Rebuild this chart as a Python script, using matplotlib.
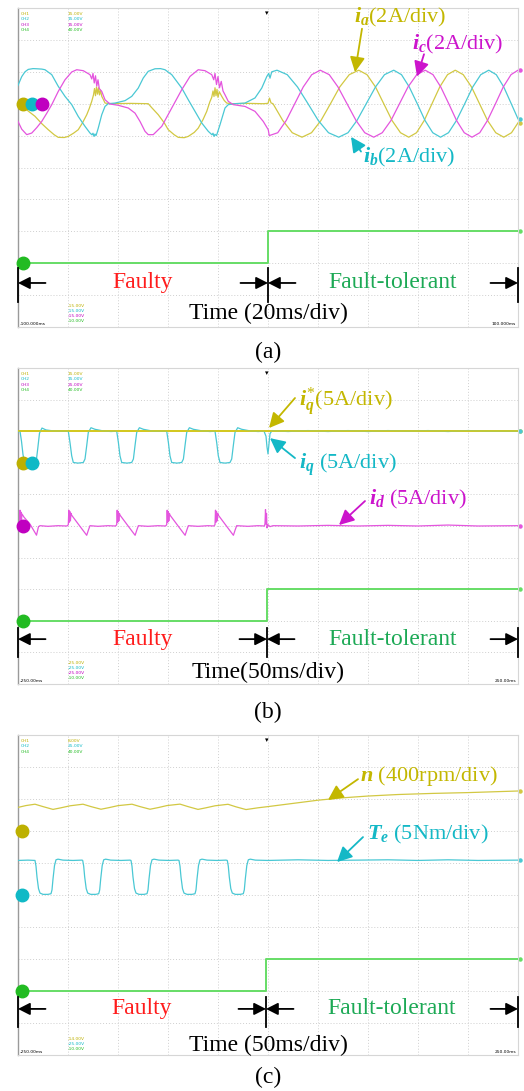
import matplotlib.pyplot as plt
import matplotlib.transforms as mtrans
import numpy as np

plt.rcParams['font.family'] = 'Liberation Serif'
plt.rcParams['mathtext.fontset'] = 'custom'
plt.rcParams['mathtext.rm'] = 'Liberation Serif'
plt.rcParams['mathtext.it'] = 'Liberation Serif:italic:bold'
plt.rcParams['mathtext.bf'] = 'Liberation Serif:bold'

# ---------------- (a) phase currents: (time ms, current A) ----------------
ia_pts = [(-100, 0.0), (-98.5, -0.05), (-96, -0.45), (-93.2, -0.79), (-90.5, -1.25), (-87.9, -1.63),
          (-85.5, -1.95), (-83.9, -2.11), (-81.5, -2.12), (-79.9, -2.05), (-77.8, -1.85), (-75.9, -1.63),
          (-74.2, -1.2), (-72.5, -0.69), (-71.5, -0.3), (-70.5, 0.15), (-69.8, 0.55), (-69.4, 0.95),
          (-69.0, 0.5), (-68.6, 1.05), (-68.2, 0.6), (-67.8, 1.0), (-67.4, 0.55), (-67.0, 0.85),
          (-66.5, 0.46), (-65.8, 0.25), (-65.2, 0.04), (-62.5, 0.0), (-55, 0.02), (-47.9, 0.0),
          (-46.5, -0.25), (-43.9, -0.69), (-41.5, -1.2), (-39.9, -1.63), (-37.5, -1.95), (-35.9, -2.11),
          (-33.5, -2.13), (-31.9, -2.05), (-29.5, -1.8), (-27.9, -1.53), (-26, -1.0), (-24.5, -0.48),
          (-23.3, 0.1), (-22.5, 0.4), (-22.0, 0.8), (-21.6, 0.45), (-21.2, 1.0), (-20.8, 0.5),
          (-20.4, 0.9), (-20.0, 0.4), (-19.5, 0.75), (-18.5, 0.46), (-17.5, 0.2), (-16.5, 0.04),
          (-14.5, 0.0), (-8, 0.02), (-2, 0.0), (0, 0.02), (0.6, 0.35), (1.2, 0.05),
          (2.0, 0.0), (5.9, -1.05), (9.7, -1.82), (13.6, -2.1), (17.4, -1.82), (21.2, -1.05),
          (25.0, 0.0), (28.7, 1.05), (32.5, 1.82), (36.3, 2.1), (39.6, 1.82), (43.0, 1.05),
          (46.3, 0.0), (49.6, -1.05), (53.0, -1.82), (56.3, -2.1), (59.4, -1.82), (62.5, -1.05),
          (65.6, 0.0), (68.7, 1.05), (71.8, 1.82), (74.9, 2.1), (78.1, 1.82), (81.4, 1.05),
          (84.6, 0.0), (87.8, -1.05), (91.1, -1.82), (94.3, -2.1), (97.4, -1.82), (100, -1.2)]

ib_pts = [(-100, 1.15), (-98.5, 1.7), (-97.2, 2.0), (-95.9, 2.15), (-94, 2.2), (-92.5, 2.19),
          (-90.5, 2.17), (-89.2, 2.13), (-86.5, 1.82), (-83.9, 1.09), (-81.2, 0.46), (-78.5, -0.06),
          (-75.9, -0.80), (-73.2, -1.42), (-71.2, -1.84), (-70.4, -1.95), (-70.0, -1.85), (-69.6, -2.05),
          (-69.2, -1.9), (-68.8, -2.0), (-67.9, -1.53), (-66.5, -0.69), (-65.2, -0.17), (-63.9, 0.0),
          (-61.2, 0.04), (-57.2, 0.19), (-54.5, 0.46), (-51.9, 0.98), (-49.9, 1.61), (-47.9, 2.03),
          (-45.2, 2.19), (-43, 2.2), (-41.2, 2.13), (-38.5, 1.82), (-34.5, 0.98), (-31.9, 0.25),
          (-29.2, -0.48), (-26.5, -1.21), (-23.9, -1.73), (-22.4, -1.95), (-22.0, -1.85), (-21.6, -2.05),
          (-21.2, -1.92), (-20.6, -2.0), (-19.2, -1.32), (-17.2, -0.27), (-15.9, -0.06), (-13.2, 0.0),
          (-9.2, 0.04), (-5.2, 0.36), (-2.5, 0.98), (-0.5, 1.70),
          (0.3, 1.9), (0.8, 1.6), (1.5, 2.0), (3.6, 2.1), (7.7, 1.82), (11.8, 1.05), (16.0, 0.0),
          (20.1, -1.05), (24.2, -1.82), (28.3, -2.1), (32.0, -1.82), (35.6, -1.05), (39.3, 0.0),
          (43.0, 1.05), (46.6, 1.82), (50.3, 2.1), (53.4, 1.82), (56.5, 1.05), (59.7, 0.0),
          (62.8, -1.05), (65.9, -1.82), (69.0, -2.1), (72.2, -1.82), (75.4, -1.05), (78.7, 0.0),
          (81.9, 1.05), (85.1, 1.82), (88.3, 2.1), (91.3, 1.82), (94.3, 1.05), (97.3, 0.0), (100, -0.95)]

ic_pts = [(-100, -1.11), (-98.5, -1.6), (-96.5, -1.94), (-94.5, -1.84), (-92.5, -1.5), (-90.5, -1.11),
          (-88.5, -0.6), (-86.5, -0.06), (-83.9, 0.77), (-81.2, 1.5), (-78.5, 1.99), (-76.5, 2.13),
          (-73.9, 2.07), (-71.2, 1.82), (-70.5, 1.55), (-70.0, 1.9), (-69.5, 1.3), (-69.0, 1.75),
          (-68.5, 1.1), (-68.0, 1.5), (-67.5, 0.95), (-66.5, 0.77), (-65.2, 0.25), (-63.2, -0.02),
          (-59.9, -0.1), (-55.9, -0.27), (-53.2, -0.59), (-51.2, -1.11), (-49.2, -1.73), (-47.9, -1.94),
          (-45.9, -1.94), (-42.5, -1.42), (-38.5, -0.27), (-34.5, 0.88), (-31.2, 1.71), (-27.9, 2.13),
          (-25.2, 2.07), (-22.5, 1.82), (-21.7, 1.5), (-21.2, 1.9), (-20.6, 1.2), (-20.0, 1.7),
          (-19.4, 1.0), (-18.7, 1.4), (-18.0, 0.8), (-17.2, 0.56), (-15.9, 0.15), (-13.9, -0.06),
          (-9.2, -0.17), (-5.2, -0.48), (-1.9, -1.11), (0.1, -1.63),
          (0.5, -2.0), (3.9, -1.82), (7.3, -1.05), (10.7, 0.0), (14.1, 1.05), (17.5, 1.82),
          (20.9, 2.1), (24.5, 1.82), (28.0, 1.05), (31.6, 0.0), (35.2, -1.05), (38.7, -1.82),
          (42.3, -2.1), (45.7, -1.82), (49.2, -1.05), (52.6, 0.0), (56.0, 1.05), (59.5, 1.82),
          (62.9, 2.1), (66.0, 1.82), (69.1, 1.05), (72.3, 0.0), (75.4, -1.05), (78.5, -1.82),
          (81.6, -2.1), (84.7, -1.82), (87.8, -1.05), (91.0, 0.0), (94.1, 1.05), (97.2, 1.82), (100, 2.1)]

# mode flag (CH4): 0 = faulty, 1 = fault-tolerant
flag_a = [(-100, 0), (0, 0), (0, 1), (100, 1)]

# ---------------- (b) dq currents: (time ms, current A) ----------------
iq_ref_pts = [(-250, 5.0), (250, 5.0)]

iq_pts = [(-250, 4.9), (-248, 5.0), (-246.5, 3.4), (-245, 1.3), (-243.5, 0.2), (-238, -0.05),
          (-233, 0.1), (-231.5, 0.6), (-230, 2.6), (-228.5, 4.7), (-226, 5.5), (-222, 5.2),
          (-215, 5.05), (-205, 5.0),
          (-199.7, 5.0), (-198, 3.2), (-196.3, 1.1), (-194.7, 0.05), (-190, -0.05), (-184.7, 0.05),
          (-183, 0.6), (-181.3, 2.7), (-179.7, 4.8), (-177, 5.55), (-173, 5.3), (-165, 5.05), (-157, 4.95),
          (-151.3, 5.0), (-149.6, 3.2), (-148, 1.1), (-146.3, 0.05), (-141, -0.05), (-136.3, 0.05),
          (-134.6, 0.6), (-133, 2.7), (-131.3, 4.8), (-128.6, 5.55), (-124.6, 5.3), (-115, 5.0), (-107, 5.0),
          (-101.3, 5.0), (-99.6, 3.2), (-98, 1.1), (-96.3, 0.05), (-91, -0.05), (-86.3, 0.05),
          (-84.6, 0.6), (-83, 2.7), (-81.3, 4.8), (-78.6, 5.55), (-74.6, 5.3), (-66, 5.05), (-58, 4.95),
          (-53, 5.0), (-51.3, 3.2), (-49.7, 1.1), (-48, 0.05), (-43, -0.05), (-38, 0.05),
          (-36.3, 0.6), (-34.7, 2.7), (-33, 4.8), (-30.3, 5.55), (-26.3, 5.3), (-18, 5.05), (-10, 4.95),
          (-4, 5.0), (-2, 4.2), (-1, 2.5), (0, 1.4), (1, 3.0), (2, 4.6), (4, 5.1),
          (20, 4.95), (40, 5.1), (60, 4.95), (80, 5.1), (100, 4.95), (120, 5.1), (140, 5.0),
          (160, 5.1), (180, 4.95), (200, 5.1), (220, 5.0), (250, 5.0)]

id_pts = [(-250, 0.0), (-248.5, 0.3), (-248, 2.5), (-247.5, 0.5), (-247, 2.2), (-246.5, 1.0),
          (-246, 1.9), (-244, 1.4), (-238, 0.3), (-231.5, -1.45), (-229.5, -0.1), (-228, 0.05),
          (-220, -0.05), (-210, 0.05), (-201, 0.0),
          (-199.7, 0.2), (-199.2, 2.5), (-198.7, 0.6), (-198.2, 2.3), (-197.6, 0.8), (-197, 2.0),
          (-196.3, 1.7), (-189, 0.15), (-181.3, -1.47), (-179.5, -0.6), (-178, 0.05), (-170, -0.05),
          (-160, 0.05), (-152.5, 0.0),
          (-151.3, 0.2), (-150.8, 2.5), (-150.3, 0.6), (-149.8, 2.3), (-149.2, 0.8), (-148.6, 2.0),
          (-147.9, 1.7), (-140.6, 0.15), (-132.9, -1.47), (-131.1, -0.6), (-129.6, 0.05), (-120, -0.05),
          (-110, 0.05), (-102.5, 0.0),
          (-101.3, 0.2), (-100.8, 2.5), (-100.3, 0.6), (-99.8, 2.3), (-99.2, 0.8), (-98.6, 2.0),
          (-97.9, 1.7), (-90.6, 0.15), (-82.9, -1.47), (-81.1, -0.6), (-79.6, 0.05), (-70, -0.05),
          (-60, 0.05), (-54.2, 0.0),
          (-53, 0.2), (-52.5, 2.5), (-52, 0.6), (-51.5, 2.3), (-50.9, 0.8), (-50.3, 2.0),
          (-49.6, 1.7), (-42.3, 0.15), (-34.6, -1.47), (-32.8, -0.6), (-31.3, 0.05), (-20, -0.05),
          (-10, 0.05), (-3.5, 0.0),
          (-3, 0.4), (-2.5, 2.6), (-2, 0.3), (-1.5, 2.0), (-1, -0.3), (0, 0.2), (2, -0.1), (5, 0.05),
          (30, 0.0), (60, 0.1), (90, 0.0), (120, 0.1), (150, 0.0), (180, 0.15), (210, 0.0), (250, 0.05)]

flag_b = [(-250, 0), (-1, 0), (-1, 1), (250, 1)]

# ---------------- (c) speed (rpm) and torque (Nm) ----------------
n_pts = [(-250, 295), (-242, 318), (-233, 335), (-225, 305), (-215, 270), (-207, 290), (-198, 315),
         (-185, 335), (-177, 305), (-167, 272), (-159, 292), (-150, 317), (-136, 335), (-128, 305),
         (-118, 272), (-110, 292), (-101, 318), (-88, 336), (-80, 305), (-70, 270), (-62, 290),
         (-53, 315), (-40, 334), (-32, 302), (-22, 268), (-10, 290), (0, 305), (25, 345), (50, 385),
         (75, 415), (100, 437), (130, 456), (165, 470), (200, 480), (250, 500)]

te_pts = [(-250, 5.4), (-240, 5.45), (-233, 5.4), (-232, 4.5), (-231, 2.8), (-229.5, 1.0), (-228, 0.3),
          (-225, 0.1), (-220, 0.1), (-217, 0.2), (-216, 0.8), (-215, 2.5), (-213.5, 4.6), (-212, 5.5),
          (-210, 5.6), (-205, 5.45), (-195, 5.4), (-186, 5.45),
          (-185.3, 5.4), (-184.3, 4.5), (-183.3, 2.8), (-181.8, 1.0), (-180.3, 0.3), (-177.3, 0.1),
          (-172.3, 0.1), (-169.3, 0.2), (-168.3, 0.8), (-167.3, 2.5), (-165.8, 4.6), (-164.3, 5.5),
          (-162.3, 5.6), (-157.3, 5.45), (-147, 5.4), (-138, 5.45),
          (-137, 5.4), (-136, 4.5), (-135, 2.8), (-133.5, 1.0), (-132, 0.3), (-129, 0.1), (-124, 0.1),
          (-121, 0.2), (-120, 0.8), (-119, 2.5), (-117.5, 4.6), (-116, 5.5), (-114, 5.6), (-109, 5.45),
          (-99, 5.4), (-90, 5.45),
          (-89, 5.4), (-88, 4.5), (-87, 2.8), (-85.5, 1.0), (-84, 0.3), (-81, 0.1), (-76, 0.1),
          (-73, 0.2), (-72, 0.8), (-71, 2.5), (-69.5, 4.6), (-68, 5.5), (-66, 5.6), (-61, 5.45),
          (-51, 5.4), (-42, 5.45),
          (-40.7, 5.4), (-39.7, 4.5), (-38.7, 2.8), (-37.2, 1.0), (-35.7, 0.3), (-32.7, 0.1),
          (-27.7, 0.1), (-24.7, 0.2), (-23.7, 0.8), (-22.7, 2.5), (-21.2, 4.6), (-19.7, 5.5),
          (-17.7, 5.6), (-12.7, 5.45), (0, 5.4), (30, 5.5), (60, 5.4), (90, 5.45), (120, 5.5),
          (150, 5.4), (180, 5.5), (210, 5.4), (250, 5.45)]

flag_c = [(-250, 0), (-2, 0), (-2, 1), (250, 1)]

# colours
YEL, YEL_T, YEL_M = '#d2c843', '#c3b700', '#bdb000'
CYA, CYA_T, CYA_M = '#4ac8d4', '#14b8c6', '#10b9c6'
MAG, MAG_T, MAG_M = '#e455de', '#cc14cc', '#c000c0'
GRN, GRN_M = '#66dd66', '#22bb22'
RED_T, GRN_T = '#ff1c1c', '#1ca955'

W, H = 524, 1091
fig = plt.figure(figsize=(W / 100, H / 100), dpi=100)
fig.patch.set_facecolor('white')


def make_panel(top, bottom, tlim):
    ax = fig.add_axes([18 / W, (H - bottom) / H, 500 / W, (bottom - top) / H])
    ax.set_xlim(tlim)
    ax.set_ylim(0, 10)
    step = (tlim[1] - tlim[0]) / 10
    for k in range(1, 10):
        ax.axvline(tlim[0] + k * step, color='#cfcfcf', ls=(0, (1, 2)), lw=0.7, zorder=0)
        ax.axhline(k, color='#cfcfcf', ls=(0, (1, 2)), lw=0.7, zorder=0)
    ax.set_xticks([])
    ax.set_yticks([])
    for s in ('top', 'right', 'bottom'):
        ax.spines[s].set_color('#d6d6d6')
        ax.spines[s].set_linewidth(0.8)
    ax.spines['left'].set_color('#9a9a9a')
    ax.spines['left'].set_linewidth(1.0)
    return ax


def trace(ax, pts, offset, scale, color, lw=0.9, end_dot=True):
    t, v = np.array(pts, dtype=float).T
    y = offset + v / scale
    ax.plot(t, y, color=color, lw=lw, zorder=3)
    if end_dot:
        blend = mtrans.blended_transform_factory(ax.transAxes, ax.transData)
        ax.plot([1.004], [y[-1]], 'o', ms=2.2, color=color, transform=blend, clip_on=False)


def ground(ax, xfrac, level, color):
    blend = mtrans.blended_transform_factory(ax.transAxes, ax.transData)
    ax.plot([xfrac], [level], 'o', ms=9, color=color, transform=blend, clip_on=False, zorder=5)


def header(ax, rows, bottom_rows, tl, tr):
    for i, (name, val, c) in enumerate(rows):
        y = 1 - (0.012 + 0.017 * i)
        ax.text(0.005, y, name, color=c, fontsize=3.2, family='DejaVu Sans', transform=ax.transAxes, va='top')
        ax.text(0.1, y, val, color=c, fontsize=3.2, family='DejaVu Sans', transform=ax.transAxes, va='top')
    n = len(bottom_rows)
    for i, (val, c) in enumerate(bottom_rows):
        y = 0.012 + 0.016 * (n - 1 - i)
        ax.text(0.1, y, val, color=c, fontsize=3.2, family='DejaVu Sans', transform=ax.transAxes, va='bottom')
    ax.text(0.004, 0.004, tl, fontsize=3.2, family='DejaVu Sans', transform=ax.transAxes, va='bottom')
    ax.text(0.996, 0.004, tr, fontsize=3.2, family='DejaVu Sans', transform=ax.transAxes, va='bottom', ha='right')
    ax.text(0.497, 0.995, '\u25be', fontsize=5, family='DejaVu Sans', transform=ax.transAxes, va='top', ha='center')


def fault_marks(ax, tlim, ts, y_ar, y_lo, y_hi, y_time, time_text):
    L = (tlim[1] - tlim[0]) * 0.055
    for x in (tlim[0], ts, tlim[1]):
        ax.plot([x, x], [y_lo, y_hi], color='black', lw=1.3, clip_on=False, zorder=6)
    aprops = dict(arrowstyle='-|>,head_length=0.55,head_width=0.28', color='black', lw=1.3,
                  mutation_scale=13, shrinkA=0, shrinkB=0)
    for head, tail in ((tlim[0], tlim[0] + L), (ts, ts - L), (ts, ts + L), (tlim[1], tlim[1] - L)):
        ax.annotate('', xy=(head, y_ar), xytext=(tail, y_ar), arrowprops=aprops, zorder=6)
    ax.text((tlim[0] + ts) / 2, y_ar, 'Faulty', color=RED_T, fontsize=17, ha='center', va='center')
    ax.text((ts + tlim[1]) / 2, y_ar, 'Fault-tolerant', color=GRN_T, fontsize=17, ha='center', va='center')
    ax.text((tlim[0] + tlim[1]) / 2, y_time, time_text, color='black', fontsize=17, ha='center', va='center')


def label(ax, text, txy, tail, head, color):
    ax.text(txy[0], txy[1], text, color=color, fontsize=16, ha='left', va='center', zorder=7)
    ax.annotate('', xy=head, xytext=tail, zorder=7,
                arrowprops=dict(arrowstyle='-|>,head_length=0.6,head_width=0.3', color=color, lw=1.3,
                                mutation_scale=15, shrinkA=0, shrinkB=0))


# ---------------- panel (a) ----------------
ax = make_panel(8, 327, (-100, 100))
trace(ax, ia_pts, 7, 2, YEL)
trace(ax, ib_pts, 7, 2, CYA)
trace(ax, ic_pts, 7, 2, MAG)
trace(ax, flag_a, 2, 1, GRN, lw=1.4)
ground(ax, 0.01, 7, YEL_M)
ground(ax, 0.028, 7, CYA_M)
ground(ax, 0.048, 7, MAG_M)
ground(ax, 0.009, 2, GRN_M)
header(ax, [('CH1', '15.00V', YEL_M), ('CH2', '15.00V', CYA_M), ('CH3', '15.00V', MAG_M), ('CH4', '40.00V', GRN_M)],
       [('-15.00V', YEL_M), ('-15.00V', CYA_M), ('-15.00V', MAG_M), ('-10.00V', GRN_M)],
       '-100.000ms', '100.000ms')
label(ax, r'$i_a$(2A/div)', (34.4, 9.69), (37.6, 9.35), (34.8, 7.99), YEL_T)
label(ax, r'$i_c$(2A/div)', (57.6, 8.87), (62.4, 8.55), (59.6, 7.85), MAG_T)
label(ax, r'$i_b$(2A/div)', (38.0, 5.3), (37.2, 5.5), (33.2, 5.96), CYA_T)
fault_marks(ax, (-100, 100), 0, 1.38, 0.78, 1.85, 0.44, 'Time (20ms/div)')
fig.text(268 / W, 1 - 352 / H, '(a)', fontsize=17, ha='center', va='center')

# ---------------- panel (b) ----------------
ax = make_panel(368, 684, (-250, 250))
trace(ax, iq_ref_pts, 7, 5, '#d4c820', lw=1.4)
trace(ax, iq_pts, 7, 5, CYA)
trace(ax, iq_ref_pts, 7, 5, '#d4c820', lw=1.1, end_dot=False)
trace(ax, id_pts, 5, 5, MAG)
trace(ax, flag_b, 2, 1, GRN, lw=1.4)
ground(ax, 0.01, 7, YEL_M)
ground(ax, 0.028, 7, CYA_M)
ground(ax, 0.009, 5, MAG_M)
ground(ax, 0.009, 2, GRN_M)
header(ax, [('CH1', '15.00V', YEL_M), ('CH2', '15.00V', CYA_M), ('CH3', '25.00V', MAG_M), ('CH4', '40.00V', GRN_M)],
       [('-25.00V', YEL_M), ('-25.00V', CYA_M), ('-25.00V', MAG_M), ('-10.00V', GRN_M)],
       '-250.00ms', '250.00ms')
label(ax, r'$i_q^{*}$(5A/div)', (31, 8.92), (27, 9.05), (1, 8.1), YEL_T)
label(ax, r'$i_q$ (5A/div)', (31, 6.93), (27, 7.15), (2, 7.78), CYA_T)
label(ax, r'$i_d$ (5A/div)', (101, 5.85), (97, 5.79), (71, 5.03), MAG_T)
fault_marks(ax, (-250, 250), -1, 1.42, 0.85, 1.77, 0.38, 'Time(50ms/div)')
fig.text(268 / W, 1 - 712 / H, '(b)', fontsize=17, ha='center', va='center')

# ---------------- panel (c) ----------------
ax = make_panel(735, 1055, (-250, 250))
trace(ax, n_pts, 7, 400, YEL)
trace(ax, te_pts, 5, 5, CYA)
trace(ax, flag_c, 2, 1, GRN, lw=1.4)
ground(ax, 0.007, 7, YEL_M)
ground(ax, 0.007, 5, CYA_M)
ground(ax, 0.007, 2, GRN_M)
header(ax, [('CH1', '8.00V', YEL_M), ('CH2', '25.00V', CYA_M), ('CH4', '40.00V', GRN_M)],
       [('-14.00V', YEL_M), ('-25.00V', CYA_M), ('-10.00V', GRN_M)],
       '-250.00ms', '250.00ms')
label(ax, r'$n$ (400rpm/div)', (92, 8.72), (90, 8.62), (60, 7.97), YEL_T)
label(ax, r'$T_e$ (5Nm/div)', (99, 6.9), (95, 6.81), (69, 6.03), CYA_T)
fault_marks(ax, (-250, 250), -2, 1.44, 0.875, 1.81, 0.31, 'Time (50ms/div)')
fig.text(268 / W, 1 - 1077 / H, '(c)', fontsize=17, ha='center', va='center')

fig.savefig('out.png', dpi=100, facecolor='white')
